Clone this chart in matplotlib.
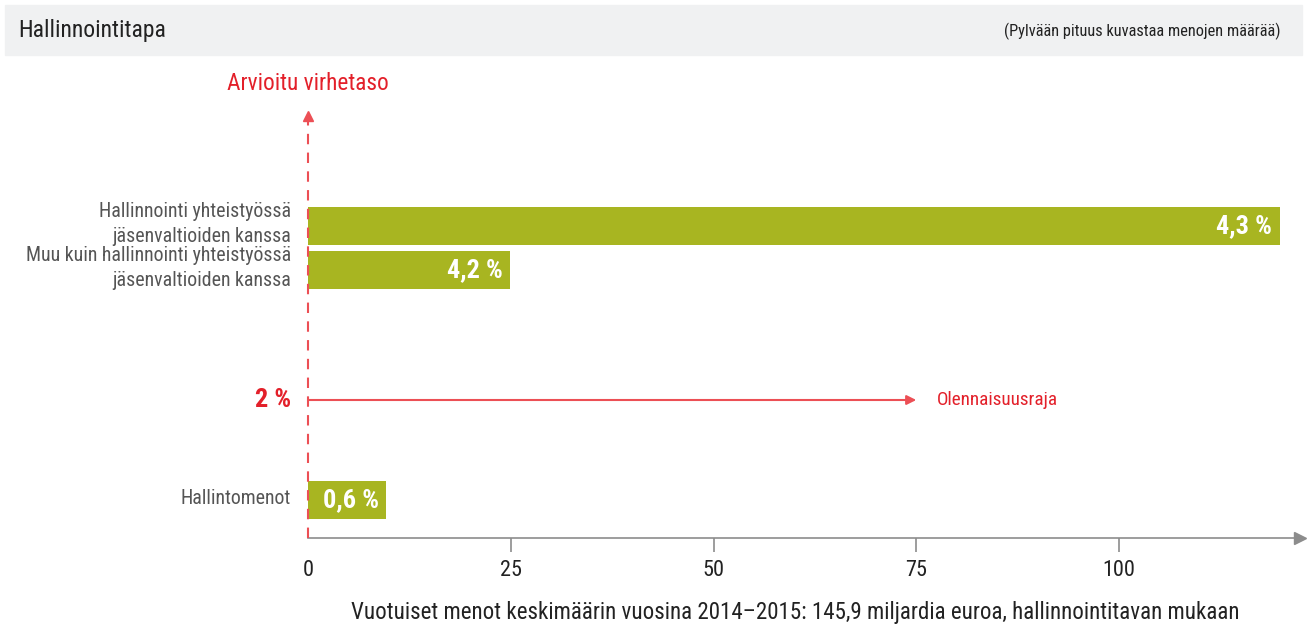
import matplotlib
matplotlib.use("Agg")
import matplotlib.pyplot as plt
from matplotlib.patches import Rectangle
from matplotlib import font_manager

# data
categories = ["Hallinnointi yhteistyössä\njäsenvaltioiden kanssa",
              "Muu kuin hallinnointi yhteistyössä\njäsenvaltioiden kanssa",
              "Hallintomenot"]
spending = [119.8, 24.9, 9.6]          # billions of euro, per year
error_labels = ["4,3 %", "4,2 %", "0,6 %"]
threshold_label = "2 %"
threshold_name = "Olennaisuusraja"
x_ticks = [0, 25, 50, 75, 100]
threshold_arrow_end = 75

# layout (vertical slots in pixel-like units, bottom of axes = 0)
slot_y = [312, 268, 38]
threshold_y = 138
bar_h = 38

names = {f.name for f in font_manager.fontManager.ttflist}
narrow = [n for n in ["Roboto Condensed", "Liberation Sans Narrow"] if n in names]
if narrow:
    FONT = [narrow[0], "DejaVu Sans"]
    k = 1.0
else:
    FONT = ["Liberation Sans", "DejaVu Sans"]
    k = 0.89
plt.rcParams["font.family"] = FONT

GREEN = "#a8b521"
RED = "#e3202a"
RED_LINE = "#ec4f55"
GREY_TXT = "#555555"
DARK = "#222222"
AXIS = "#8c8c8c"

W, H = 1309, 628
fig = plt.figure(figsize=(W / 100, H / 100), dpi=100)

# header band
fig.patches.append(Rectangle((5 / W, 1 - 55 / H), 1297 / W, 50 / H,
                             transform=fig.transFigure, color="#f0f1f2", zorder=0))
fig.text(18 / W, 1 - 31 / H, "Hallinnointitapa", fontsize=17 * k, color=DARK,
         va="center", ha="left")
fig.text(1280 / W, 1 - 31 / H, "(Pylvään pituus kuvastaa menojen määrää)",
         fontsize=11.8 * k, color=DARK, va="center", ha="right")

left, right = 308, 1300
bottom, top = 538, 113
ax = fig.add_axes([left / W, 1 - bottom / H, (right - left) / W, (bottom - top) / H])
ax.set_xlim(0, (right - left) / 8.11)
ax.set_ylim(0, bottom - top)

for s in ["top", "right", "left"]:
    ax.spines[s].set_visible(False)
ax.spines["bottom"].set_color(AXIS)
ax.spines["bottom"].set_linewidth(1.2)
ax.plot(1, 0, ">", color=AXIS, markersize=8, transform=ax.transAxes, clip_on=False)

ax.set_yticks([])
ax.set_xticks(x_ticks)
ax.set_xticklabels([str(t) for t in x_ticks])
ax.tick_params(axis="x", length=10, width=1.2, color=AXIS, labelsize=16 * k,
               labelcolor=DARK, pad=6)
ax.xaxis.get_major_ticks()[0].tick1line.set_visible(False)
ax.set_xlabel("Vuotuiset menot keskimäärin vuosina 2014–2015: 145,9 miljardia euroa, hallinnointitavan mukaan",
              fontsize=16.6 * k, color=DARK)
ax.xaxis.set_label_coords((795 - left) / (right - left), -(612 - bottom) / (bottom - top))
ax.xaxis.label.set_va("center")

# bars
ax.barh(slot_y, spending, height=bar_h, color=GREEN, zorder=2)
for y, v, lab, cat in zip(slot_y, spending, error_labels, categories):
    ax.text(v - 0.9, y, lab, color="white", fontsize=19 * k, fontweight="bold",
            ha="right", va="center", zorder=3)
    ax.text(-2.1, y + 2, cat, color=GREY_TXT, fontsize=14.3 * k, ha="right", va="center",
            linespacing=1.4)

# error-rate axis (dashed, arrow up)
ax.plot([0, 0], [0, bottom - top - 6], color=RED_LINE, lw=1.5, ls=(0, (5, 4)),
        zorder=4, clip_on=False)
ax.plot([0], [bottom - top - 3], "^", color=RED_LINE, markersize=7, clip_on=False, zorder=4)
ax.text(0, bottom - top + 30, "Arvioitu virhetaso", color=RED, fontsize=16.8 * k,
        ha="center", va="center")

# materiality threshold
ax.annotate("", xy=(threshold_arrow_end, threshold_y), xytext=(0, threshold_y),
            arrowprops=dict(arrowstyle="-|>", color=RED_LINE, lw=1.5,
                            shrinkA=0, shrinkB=0, mutation_scale=14))
ax.text(-2.1, threshold_y, threshold_label, color=RED, fontsize=19 * k,
        fontweight="bold", ha="right", va="center")
ax.text(threshold_arrow_end + 2.5, threshold_y, threshold_name, color=RED,
        fontsize=13.8 * k, ha="left", va="center")

fig.savefig("out.png", dpi=100)
